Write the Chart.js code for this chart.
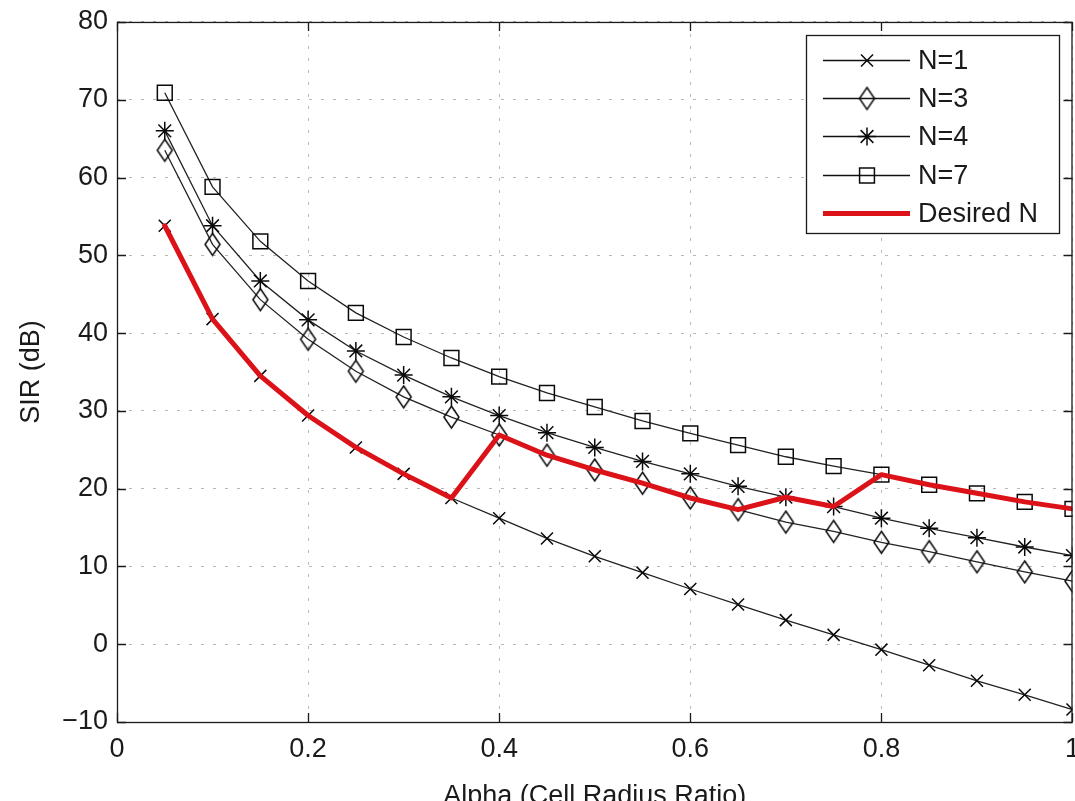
<!DOCTYPE html>
<html>
<head>
<meta charset="utf-8">
<script src="https://cdn.jsdelivr.net/npm/chart.js@4/dist/chart.umd.min.js"></script>
<style>
  html, body { margin: 0; padding: 0; background: #fff; overflow: hidden; width: 1075px; height: 801px; }
  #wrap { width: 1200px; height: 801px; position: relative; }
  #c { position: absolute; left: 0; top: 0; }
</style>
</head>
<body>
<div id="wrap"><canvas id="c" width="1091" height="801"></canvas></div>
<script>
// ---- data ----
const alpha = [0.05, 0.10, 0.15, 0.20, 0.25, 0.30, 0.35, 0.40, 0.45, 0.50,
               0.55, 0.60, 0.65, 0.70, 0.75, 0.80, 0.85, 0.90, 0.95, 1.00];
const sirN1 = [53.8, 41.8, 34.5, 29.4, 25.3, 21.9, 18.8, 16.2, 13.6, 11.3,
               9.2, 7.1, 5.1, 3.1, 1.2, -0.7, -2.7, -4.7, -6.5, -8.4];
const sirN3 = [63.5, 51.4, 44.3, 39.2, 35.1, 31.8, 29.2, 26.9, 24.3, 22.4,
               20.7, 18.8, 17.3, 15.7, 14.5, 13.1, 11.9, 10.6, 9.3, 8.1];
const sirN4 = [66.0, 53.8, 46.7, 41.7, 37.7, 34.6, 31.8, 29.4, 27.2, 25.3,
               23.5, 21.9, 20.3, 18.9, 17.7, 16.2, 14.9, 13.7, 12.5, 11.4];
const sirN7 = [70.9, 58.8, 51.8, 46.7, 42.6, 39.5, 36.8, 34.4, 32.3, 30.5,
               28.7, 27.1, 25.6, 24.1, 22.9, 21.8, 20.5, 19.4, 18.3, 17.4];
const sirDesired = [53.8, 41.8, 34.5, 29.4, 25.3, 21.9, 18.8, 26.9, 24.3, 22.4,
                    20.7, 18.8, 17.3, 18.9, 17.7, 21.8, 20.5, 19.4, 18.3, 17.4];
const seriesLabels = ['N=1', 'N=3', 'N=4', 'N=7', 'Desired N'];
const xTickValues = [0, 0.2, 0.4, 0.6, 0.8, 1];
const xTickLabels = ['0', '0.2', '0.4', '0.6', '0.8', '1'];
const yTickValues = [-10, 0, 10, 20, 30, 40, 50, 60, 70, 80];
const yTickLabels = ['\u221210', '0', '10', '20', '30', '40', '50', '60', '70', '80'];
const xTitle = 'Alpha (Cell Radius Ratio)';
const yTitle = 'SIR (dB)';

// ---- styling ----
const FONT = "'Liberation Sans', Arial, Helvetica, sans-serif";
const FS = 27;
const INK = '#1a1a1a';
const PLOT_RIGHT = 1072;   // right edge of the axes box in the reference

function diamondCanvas(w, h, lw) {
  const c = document.createElement('canvas');
  c.width = w + 4; c.height = h + 4;
  const g = c.getContext('2d');
  g.strokeStyle = '#0a0a0a';
  g.lineWidth = lw;
  const cx = c.width / 2, cy = c.height / 2;
  g.beginPath();
  g.moveTo(cx, cy - h / 2);
  g.lineTo(cx + w / 2, cy);
  g.lineTo(cx, cy + h / 2);
  g.lineTo(cx - w / 2, cy);
  g.closePath();
  g.stroke();
  return c;
}
const diamond = diamondCanvas(15, 22, 1.5);

const pts = arr => alpha.map((a, i) => ({ x: a, y: arr[i] }));

const lineStyle = {
  borderColor: '#222', borderWidth: 1.3, pointBorderColor: '#0a0a0a',
  pointBackgroundColor: 'rgba(0,0,0,0)', pointBorderWidth: 1.5,
  tension: 0, fill: false, order: 1
};

const datasets = [
  Object.assign({}, lineStyle, { label: seriesLabels[0], data: pts(sirN1), pointStyle: 'crossRot', pointRadius: 8.5 }),
  Object.assign({}, lineStyle, { label: seriesLabels[1], data: pts(sirN3), pointStyle: diamond, pointRadius: 9 }),
  Object.assign({}, lineStyle, { label: seriesLabels[2], data: pts(sirN4), pointStyle: 'star', pointRadius: 9 }),
  Object.assign({}, lineStyle, { label: seriesLabels[3], data: pts(sirN7), pointStyle: 'rect', pointRadius: 10.5 }),
  { label: seriesLabels[4], data: pts(sirDesired), borderColor: '#dc1219', borderWidth: 5,
    pointRadius: 0, tension: 0, fill: false, order: 0, borderJoinStyle: 'round', borderCapStyle: 'round' }
];

// frame, inward ticks and legend (MATLAB look)
const matlabFrame = {
  id: 'matlabFrame',
  afterDraw(chart) {
    const { ctx, chartArea: a, scales: { x, y } } = chart;
    ctx.save();
    ctx.strokeStyle = INK;
    ctx.lineWidth = 1.3;
    ctx.strokeRect(a.left + 0.5, a.top + 0.5, a.right - a.left - 1, a.bottom - a.top);
    const TL = 9;
    ctx.beginPath();
    xTickValues.forEach(v => {
      const px = Math.round(x.getPixelForValue(v)) + 0.5;
      ctx.moveTo(px, a.bottom); ctx.lineTo(px, a.bottom - TL);
      ctx.moveTo(px, a.top); ctx.lineTo(px, a.top + TL);
    });
    yTickValues.forEach(v => {
      const py = Math.round(y.getPixelForValue(v)) + 0.5;
      ctx.moveTo(a.left, py); ctx.lineTo(a.left + TL, py);
      ctx.moveTo(a.right, py); ctx.lineTo(a.right - TL, py);
    });
    ctx.stroke();

    // legend box
    const L = { left: 806, top: 35, right: 1059, bottom: 233 };
    ctx.fillStyle = '#fff';
    ctx.fillRect(L.left, L.top, L.right - L.left, L.bottom - L.top);
    ctx.lineWidth = 1.3;
    ctx.strokeStyle = INK;
    ctx.strokeRect(L.left + 0.5, L.top + 0.5, L.right - L.left, L.bottom - L.top);
    const rowY0 = 60, rowDy = 38.2, x1 = 823, x2 = 910, mx = 867, tx = 918;
    ctx.font = FS + 'px ' + FONT;
    ctx.textBaseline = 'middle';
    ctx.textAlign = 'left';
    chart.data.datasets.forEach((ds, i) => {
      const ry = Math.round(rowY0 + i * rowDy) + 0.5;
      ctx.strokeStyle = ds.pointRadius > 0 ? '#111' : ds.borderColor;
      ctx.lineWidth = ds.pointRadius > 0 ? 1.6 : ds.borderWidth;
      ctx.lineCap = 'butt';
      ctx.beginPath(); ctx.moveTo(x1, ry); ctx.lineTo(x2, ry); ctx.stroke();
      if (ds.pointRadius > 0) {
        ctx.strokeStyle = ds.pointBorderColor;
        ctx.fillStyle = 'rgba(0,0,0,0)';
        ctx.lineWidth = ds.pointBorderWidth;
        Chart.helpers.drawPoint(ctx, { pointStyle: ds.pointStyle, radius: ds.pointRadius, rotation: 0, borderWidth: ds.pointBorderWidth }, mx, ry);
      }
      ctx.fillStyle = INK;
      ctx.fillText(ds.label, tx, ry + 1);
    });
    ctx.restore();
  }
};

const chart = new Chart(document.getElementById('c'), {
  type: 'line',
  data: { datasets },
  options: {
    responsive: false,
    maintainAspectRatio: false,
    animation: false,
    layout: { padding: { left: 0, right: 3, top: 10, bottom: 0 } },
    plugins: { legend: { display: false }, tooltip: { enabled: false } },
    scales: {
      x: {
        type: 'linear', min: 0, max: 1,
        afterBuildTicks: s => { s.ticks = xTickValues.map(v => ({ value: v })); },
        afterFit: s => { s.height = 79; },
        ticks: {
          padding: 11, color: INK, maxRotation: 0, autoSkip: false,
          font: { family: FONT, size: FS },
          callback: (v) => xTickLabels[xTickValues.indexOf(v)] ?? ''
        },
        grid: { color: '#b8b8b8', lineWidth: 1, drawTicks: false, borderDash: [3, 9] },
        border: { display: false, dash: [3, 9] },
        title: { display: true, text: xTitle, color: INK, font: { family: FONT, size: FS, lineHeight: 1.0 }, padding: { top: 0, bottom: -9 } }
      },
      y: {
        type: 'linear', min: -10, max: 80,
        afterBuildTicks: s => { s.ticks = yTickValues.map(v => ({ value: v })); },
        afterFit: s => { s.width = 117; },
        ticks: {
          padding: 9, color: INK, autoSkip: false,
          font: { family: FONT, size: FS, lineHeight: 0.96 },
          callback: (v) => yTickLabels[yTickValues.indexOf(v)] ?? ''
        },
        grid: { color: '#b8b8b8', lineWidth: 1, drawTicks: false, borderDash: [3, 9] },
        border: { display: false, dash: [3, 9] },
        title: { display: true, text: yTitle, color: INK, font: { family: FONT, size: FS, lineHeight: 1.0 }, padding: { top: 18, bottom: 0 } }
      }
    }
  },
  plugins: [matlabFrame]
});

// widen the canvas (beyond the visible window, as in the cropped reference)
// so that the axes box ends where the reference's does
const dx = PLOT_RIGHT - chart.chartArea.right;
if (Math.abs(dx) > 0.25) chart.resize(Math.round(chart.width + dx), 801);
</script>
</body>
</html>
